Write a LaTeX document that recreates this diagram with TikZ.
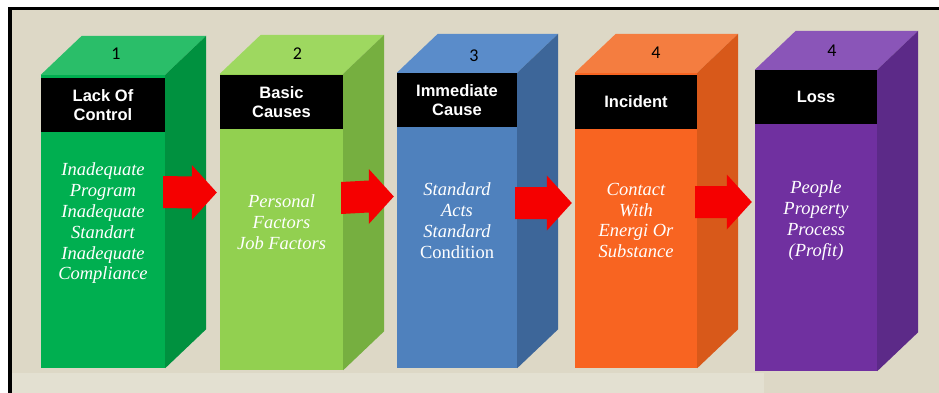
\documentclass[tikz,border=0pt]{standalone}
\usepackage{fontspec}
\setmainfont{Liberation Serif}
\newfontfamily\tagfont{Liberation Sans}
\newfontfamily\numfont{Carlito}
\usetikzlibrary{calc}

\definecolor{paper}{HTML}{DDD8C6}
\definecolor{strip}{HTML}{E3E0D1}
\definecolor{arrowred}{HTML}{F50000}
\definecolor{grnfront}{HTML}{00AF50}
\definecolor{grnside}{HTML}{00913F}
\definecolor{grntop}{HTML}{2ABE69}
\definecolor{limefront}{HTML}{92D050}
\definecolor{limeside}{HTML}{76AF40}
\definecolor{limetop}{HTML}{9ED860}
\definecolor{bluefront}{HTML}{4F81BD}
\definecolor{blueside}{HTML}{3D6699}
\definecolor{bluetop}{HTML}{5A8CCA}
\definecolor{orgfront}{HTML}{F86421}
\definecolor{orgside}{HTML}{D8591A}
\definecolor{orgtop}{HTML}{F47D40}
\definecolor{purpfront}{HTML}{7030A0}
\definecolor{purpside}{HTML}{5C2A88}
\definecolor{purptop}{HTML}{8A55B8}

\tikzset{
	face/.style={inner sep=0pt, align=center, text=white, font=\itshape\fontsize{18.5}{20.8}\selectfont},
	tagbox/.style={fill=black, text=white, inner sep=0pt, anchor=north, minimum height=54pt, align=center, font=\tagfont\bfseries\fontsize{16.5}{19.5}\selectfont},
	numlabel/.style={text=black, font=\numfont\fontsize{18}{20}\selectfont}
}

% top and side of a box, from the front face node
\def\cuboid#1#2#3{
	\fill[#3] (#1.north west) -- ++(41,-39) -- ($(#1.north east)+(41,-39)$) -- (#1.north east) -- cycle;
	\fill[#2] (#1.north east) -- ++(41,-39) -- ($(#1.south east)+(41,-39)$) -- (#1.south east) -- cycle;
}
% block arrow from one front face to the next
\def\redarrow#1#2#3{
	\fill[arrowred] let \p1=($(#1.east)+(-2,#3)$), \p2=($(#2.west)+(-3,#3)$) in
		(\x1,\y1+16pt) -- (\x2-25pt,\y2+16pt) -- (\x2-25pt,\y2+27.5pt) -- (\x2,\y2)
		-- (\x2-25pt,\y2-27.5pt) -- (\x2-25pt,\y2-16pt) -- (\x1,\y1-16pt) -- cycle;
}

\begin{document}
\begin{tikzpicture}[x=1pt, y=-1pt]
			%%%%% START %%%%%
			\useasboundingbox (0,0) rectangle (939,393);
			\fill[white] (0,0) rectangle (939,393);
			\fill[paper] (10,9) rectangle (939,393);
			\fill[strip] (12,373) rectangle (764,393);
			\fill[black] (8,7) rectangle (939,10.5);
			\fill[black] (8,7) rectangle (12,393);
			
			\node[face, fill=grnfront, minimum width=124pt, minimum height=293pt, text depth=-4pt] (f1) at (103,221.5) {Inadequate\\Program\\Inadequate\\Standart\\Inadequate\\Compliance};
			\cuboid{f1}{grnside}{grntop}
			
			\node[face, fill=limefront, minimum width=123pt, minimum height=296pt] (f2) at (281.5,222) {Personal\\Factors\\Job Factors};
			\cuboid{f2}{limeside}{limetop}
			
			\node[face, fill=bluefront, minimum width=120pt, minimum height=295pt] (f3) at (457,220.5) {Standard\\Acts\\Standard\\\upshape Condition};
			\cuboid{f3}{blueside}{bluetop}
			
			\node[face, fill=orgfront, minimum width=122pt, minimum height=295pt] (f4) at (636,220.5) {Contact\\With\\Energi Or\\Substance};
			\cuboid{f4}{orgside}{orgtop}
			
			\node[face, fill=purpfront, minimum width=122pt, minimum height=301pt] (f5) at (816,220.5) {People\\Property\\Process\\(Profit)};
			\cuboid{f5}{purpside}{purptop}
			
			\node[tagbox, minimum width=124pt] (t1) at ($(f1.north)+(0,3)$) {Lack Of\\Control};
			\node[tagbox, minimum width=123pt] (t2) at ($(f2.north)+(0,1)$) {Basic\\Causes};
			\node[tagbox, minimum width=120pt] (t3) at (f3.north) {Immediate\\Cause};
			\node[tagbox, minimum width=122pt] (t4) at ($(f4.north)+(0,2)$) {Incident};
			\node[tagbox, minimum width=122pt] (t5) at (f5.north) {Loss};
			
			\node[numlabel] (n1) at ($(f1.north)+(13,-21)$) {1};
			\node[numlabel] (n2) at ($(f2.north)+(16,-20)$) {2};
			\node[numlabel] (n3) at ($(f3.north)+(17,-17)$) {3};
			\node[numlabel] (n4) at ($(f4.north)+(20,-20)$) {4};
			\node[numlabel] (n5) at ($(f5.north)+(16,-19)$) {4};
			
			\redarrow{f1}{f2}{-29.5}
			\redarrow{f2}{f3}{-24}
			\redarrow{f3}{f4}{-17.5}
			\redarrow{f4}{f5}{-18.5}
			%%%%% END %%%%%
\end{tikzpicture}
\end{document}
